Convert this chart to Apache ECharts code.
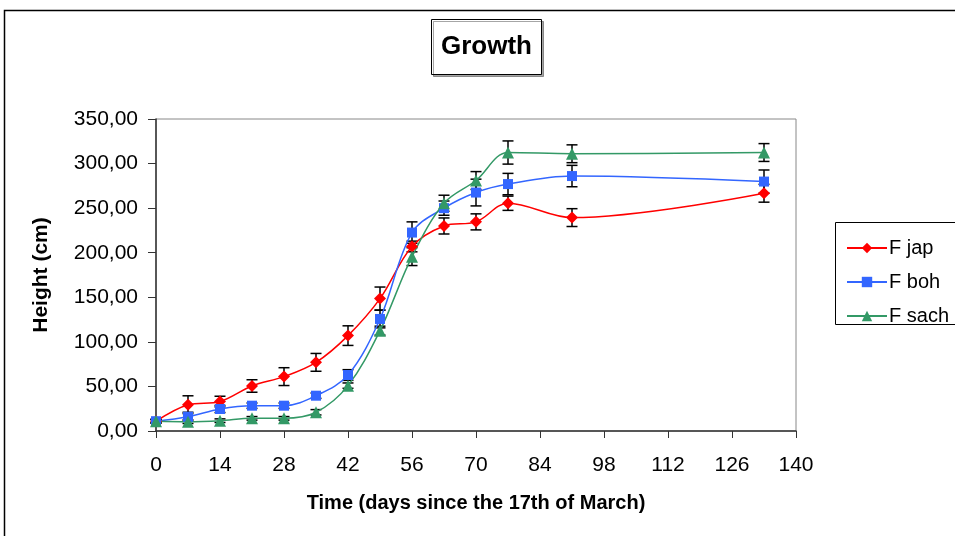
<!DOCTYPE html>
<html>
<head>
<meta charset="utf-8">
<script src="https://cdn.jsdelivr.net/npm/echarts@6/dist/echarts.min.js"></script>
<style>
  html, body { margin: 0; padding: 0; background: #fff; }
  #chart { width: 955px; height: 536px; }
</style>
</head>
<body>
<div id="chart"></div>
<script>
// days since 17th of March
var days = [0, 7, 14, 21, 28, 35, 42, 49, 56, 63, 70, 77, 91, 133];
var xTicks = [0, 14, 28, 42, 56, 70, 84, 98, 112, 126, 140];
var seriesNames = ['F jap', 'F boh', 'F sach'];

var japVals  = [11, 29.5, 33, 50.5, 61, 77, 107, 148.5, 207, 230, 234.6, 255.5, 239.4, 266.7];
var japErr   = [2, 10, 6, 7, 10, 10, 11, 13, 6, 9, 9, 8, 10, 10];
var bohVals  = [11, 16, 24.7, 28.4, 28.4, 39.6, 62.8, 125.7, 222.6, 250, 267.5, 277, 286, 279.8];
var bohErr   = [2, 5, 4, 3, 3, 3, 6, 10, 12, 8, 15, 12, 12, 13];
var sachVals = [11, 10.5, 11.6, 14.2, 14.2, 21, 50.9, 112.6, 195.6, 255.5, 281, 312.4, 311, 312.4];
var sachErr  = [2, 2, 2, 2, 2, 3, 3, 5, 10, 9, 10, 13, 10, 10];

var colors = ['#ff0000', '#3366ff', '#339966'];
var symbols = ['diamond', 'rect', 'triangle'];
var symSizes = [12, 10, 12];

var font = 'Arial, "Liberation Sans", sans-serif';

function pairs(vals) {
  return days.map(function (d, i) { return [d, vals[i]]; });
}
function errData(vals, errs) {
  return days.map(function (d, i) { return [d, vals[i], errs[i]]; });
}

function errorBars(params, api) {
  var x = api.value(0), y = api.value(1), e = api.value(2);
  var top = api.coord([x, y + e]);
  var bot = api.coord([x, y - e]);
  var w = 5.5;
  var st = { stroke: '#000', lineWidth: 1.5 };
  return {
    type: 'group',
    children: [
      { type: 'line', shape: { x1: top[0], y1: top[1], x2: bot[0], y2: bot[1] }, style: st },
      { type: 'line', shape: { x1: top[0] - w, y1: top[1], x2: top[0] + w, y2: top[1] }, style: st },
      { type: 'line', shape: { x1: bot[0] - w, y1: bot[1], x2: bot[0] + w, y2: bot[1] }, style: st }
    ]
  };
}

var allVals = [japVals, bohVals, sachVals];
var allErr = [japErr, bohErr, sachErr];

var series = [];
allVals.forEach(function (vals, k) {
  series.push({
    name: 'err ' + k,
    type: 'custom',
    renderItem: errorBars,
    data: errData(vals, allErr[k]),
    encode: { x: 0, y: 1 },
    z: 1
  });
});
allVals.forEach(function (vals, k) {
  series.push({
    name: seriesNames[k],
    type: 'line',
    smooth: 0.35,
    data: pairs(vals),
    symbol: symbols[k],
    symbolSize: symSizes[k],
    lineStyle: { color: colors[k], width: 1.5 },
    itemStyle: { color: colors[k] },
    z: 3
  });
});

var myChart = echarts.init(document.getElementById('chart'));
var option = {
  backgroundColor: '#fff',
  animation: false,
  color: colors,
  textStyle: { fontFamily: font },
  title: {
    text: 'Growth',
    left: 431,
    top: 19,
    padding: [15, 10, 15, 10],
    borderColor: '#000',
    borderWidth: 1,
    backgroundColor: '#fff',
    shadowColor: 'rgba(0,0,0,0.35)',
    shadowOffsetX: 2,
    shadowOffsetY: 2,
    textStyle: { fontSize: 26, fontWeight: 'bold', color: '#000', fontFamily: font }
  },
  legend: {
    data: seriesNames,
    orient: 'vertical',
    left: 841,
    top: 233,
    itemWidth: 40,
    itemHeight: 13,
    itemGap: 14,
    textStyle: { fontSize: 20, color: '#000', fontFamily: font, padding: [0, 0, 0, -3] }
  },
  graphic: [
    {
      type: 'rect',
      shape: { x: 4.5, y: 10.5, width: 1000, height: 600 },
      style: { fill: 'none', stroke: '#000', lineWidth: 1.5 },
      silent: true
    },
    {
      type: 'rect',
      shape: { x: 835.5, y: 222.5, width: 160, height: 102 },
      style: { fill: 'none', stroke: '#000', lineWidth: 1 },
      silent: true
    }
  ],
  grid: {
    left: 156,
    right: 159,
    top: 119,
    bottom: 105,
    show: true,
    borderColor: '#888',
    borderWidth: 1,
    backgroundColor: '#fff'
  },
  xAxis: {
    type: 'value',
    min: 0,
    max: 140,
    interval: 14,
    name: 'Time (days since the 17th of March)',
    nameLocation: 'middle',
    nameGap: 62,
    nameTextStyle: { fontSize: 20, fontWeight: 'bold', color: '#000', fontFamily: font },
    axisLine: { onZero: false, lineStyle: { color: '#333', width: 1.5 } },
    axisTick: { show: true, length: 7, lineStyle: { color: '#333', width: 1 } },
    axisLabel: {
      margin: 24,
      fontSize: 21,
      color: '#000',
      fontFamily: font,
      formatter: function (v) { return xTicks.indexOf(v) >= 0 ? String(v) : ''; }
    },
    splitLine: { show: false }
  },
  yAxis: {
    type: 'value',
    min: 0,
    max: 350,
    interval: 50,
    name: 'Height (cm)',
    nameLocation: 'middle',
    nameGap: 104,
    nameRotate: 90,
    nameTextStyle: { fontSize: 21, fontWeight: 'bold', color: '#000', fontFamily: font },
    axisLine: { show: true, lineStyle: { color: '#333', width: 1.5 } },
    axisTick: { show: true, length: 8, lineStyle: { color: '#333', width: 1 } },
    axisLabel: {
      margin: 18,
      fontSize: 21,
      color: '#000',
      fontFamily: font,
      formatter: function (v) { return v.toFixed(2).replace('.', ','); }
    },
    splitLine: { show: false }
  },
  series: series
};
myChart.setOption(option);
</script>
</body>
</html>
